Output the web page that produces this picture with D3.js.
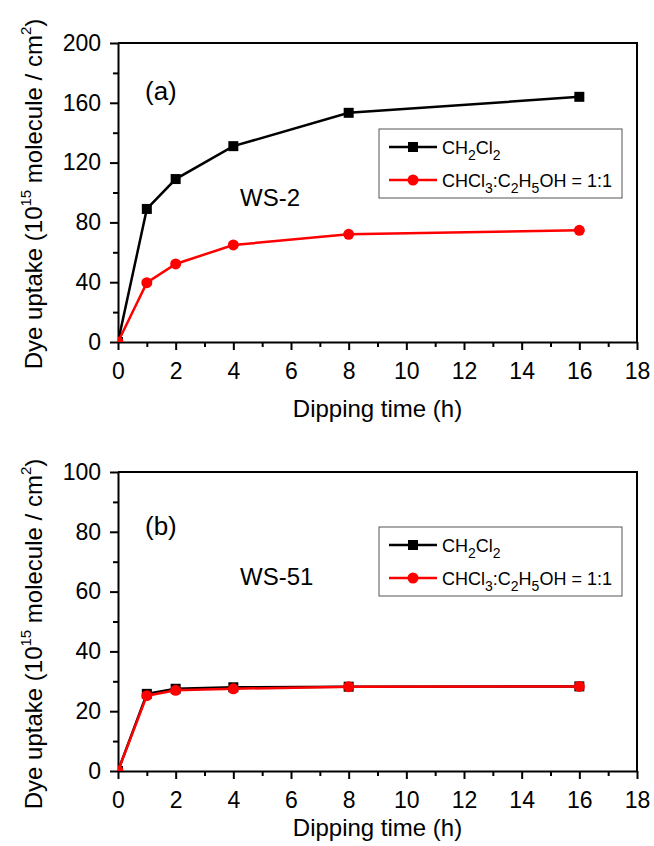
<!DOCTYPE html>
<html>
<head>
<meta charset="utf-8">
<script src="https://cdnjs.cloudflare.com/ajax/libs/d3/7.8.5/d3.min.js"></script>
<style>
  body { margin: 0; background: #fff; }
  svg { display: block; font-family: "Liberation Sans", Arial, sans-serif; }
  .axis path, .axis line { stroke: #000; stroke-width: 2; }
  .axis text { font-size: 23px; fill: #000; font-family: "Liberation Sans", Arial, sans-serif; }
</style>
</head>
<body>
<svg id="chart" width="654" height="846"></svg>
<script>
// Dipping time in hours
const hours = [0, 1, 2, 4, 8, 16];

// Dye uptake (10^15 molecule / cm^2)
const ws2CH2Cl2 = [0, 89, 109, 131, 153.3, 164];
const ws2Mix = [0, 39.7, 52.2, 64.9, 72, 74.7];
const ws51CH2Cl2 = [0, 25.8, 27.5, 28, 28.2, 28.3];
const ws51Mix = [0, 25.2, 27, 27.5, 28.2, 28.3];

const xTicks = [0, 2, 4, 6, 8, 10, 12, 14, 16, 18];
const yTicksA = [0, 40, 80, 120, 160, 200];
const yTicksB = [0, 20, 40, 60, 80, 100];

const svg = d3.select('#chart');

class UptakePanel {
  constructor(_config) {
    this.config = _config;
    this.initVis();
  }

  initVis() {
    let vis = this;
    const c = vis.config;

    vis.width = c.right - c.left;
    vis.height = c.bottom - c.top;

    vis.xScale = d3.scaleLinear().domain([0, 18]).range([0, vis.width]);
    vis.yScale = d3.scaleLinear().domain([0, c.yMax]).range([vis.height, 0]);

    vis.g = svg.append('g').attr('transform', `translate(${c.left},${c.top})`);

    vis.g.append('clipPath').attr('id', c.id + '-clip')
      .append('rect').attr('width', vis.width).attr('height', vis.height);

    // minor ticks first, majors on top
    const xMinor = d3.range(1, 18, 2);
    const yStep = c.yTicks[1] - c.yTicks[0];
    const yMinor = c.yTicks.slice(0, -1).map(v => v + yStep / 2);

    vis.g.append('g').attr('class', 'axis')
      .attr('transform', `translate(0,${vis.height})`)
      .call(d3.axisBottom(vis.xScale).tickValues(xMinor).tickSize(5).tickFormat(''))
      .call(g => g.select('.domain').remove());
    vis.g.append('g').attr('class', 'axis')
      .call(d3.axisLeft(vis.yScale).tickValues(yMinor).tickSize(5).tickFormat(''))
      .call(g => g.select('.domain').remove());

    vis.g.append('g').attr('class', 'axis')
      .attr('transform', `translate(0,${vis.height})`)
      .call(d3.axisBottom(vis.xScale).tickValues(xTicks).tickSize(8).tickPadding(13).tickSizeOuter(0));
    vis.g.append('g').attr('class', 'axis')
      .call(d3.axisLeft(vis.yScale).tickValues(c.yTicks).tickSize(8).tickPadding(9).tickSizeOuter(0));

    // top and right frame
    vis.g.append('path')
      .attr('d', `M0,0H${vis.width}V${vis.height}`)
      .attr('fill', 'none').attr('stroke', '#000').attr('stroke-width', 2);

    // axis titles
    svg.append('text')
      .attr('x', c.left + vis.width / 2).attr('y', c.xTitleY)
      .attr('text-anchor', 'middle').attr('font-size', 24)
      .text('Dipping time (h)');

    const yt = svg.append('text')
      .attr('transform', `translate(42,${c.yTitleY}) rotate(-90)`)
      .attr('text-anchor', 'middle').attr('font-size', 24);
    yt.append('tspan').text('Dye uptake (10');
    yt.append('tspan').attr('font-size', 15).attr('dy', -11).text('15');
    yt.append('tspan').attr('dy', 11).text(' molecule / cm');
    yt.append('tspan').attr('font-size', 15).attr('dy', -11).text('2');
    yt.append('tspan').attr('dy', 11).text(')');

    vis.g.append('text').attr('x', 27).attr('y', c.letterY)
      .attr('font-size', 26).text(c.letter);
    vis.g.append('text').attr('x', 122).attr('y', c.sampleY)
      .attr('font-size', 24).text(c.sample);

    vis.renderVis();
    vis.renderLegend();
  }

  renderVis() {
    let vis = this;
    const c = vis.config;
    const plot = vis.g.append('g').attr('clip-path', `url(#${c.id}-clip)`);
    const line = d3.line().x(d => vis.xScale(d[0])).y(d => vis.yScale(d[1]));

    c.series.forEach(s => {
      const pts = hours.map((h, i) => [h, s.values[i]]);
      plot.append('path').datum(pts)
        .attr('d', line).attr('fill', 'none')
        .attr('stroke', s.color).attr('stroke-width', 2.5);
      if (s.shape === 'square') {
        plot.selectAll(null).data(pts).join('rect')
          .attr('x', d => vis.xScale(d[0]) - 5).attr('y', d => vis.yScale(d[1]) - 5)
          .attr('width', 10).attr('height', 10).attr('fill', s.color);
      } else {
        plot.selectAll(null).data(pts).join('circle')
          .attr('cx', d => vis.xScale(d[0])).attr('cy', d => vis.yScale(d[1]))
          .attr('r', 5.5).attr('fill', s.color);
      }
    });
  }

  renderLegend() {
    let vis = this;
    const c = vis.config;
    const lg = svg.append('g').attr('transform', `translate(379,${c.legendY})`);
    lg.append('rect').attr('width', 243).attr('height', 69)
      .attr('fill', '#fff').attr('stroke', '#555').attr('stroke-width', 1);

    const rows = [
      { y: 18, color: '#000', shape: 'square', parts: [['CH', 0], ['2', 1], ['Cl', 0], ['2', 1]] },
      { y: 51, color: '#ff0000', shape: 'circle', parts: [['CHCl', 0], ['3', 1], [':C', 0], ['2', 1], ['H', 0], ['5', 1], ['OH = 1:1', 0]] }
    ];
    rows.forEach(r => {
      lg.append('line').attr('x1', 10).attr('x2', 58).attr('y1', r.y).attr('y2', r.y)
        .attr('stroke', r.color).attr('stroke-width', 2.5);
      if (r.shape === 'square') {
        lg.append('rect').attr('x', 29).attr('y', r.y - 5).attr('width', 10).attr('height', 10).attr('fill', r.color);
      } else {
        lg.append('circle').attr('cx', 34).attr('cy', r.y).attr('r', 5.5).attr('fill', r.color);
      }
      const t = lg.append('text').attr('x', 63).attr('y', r.y + 7).attr('font-size', 18);
      let sub = 0;
      r.parts.forEach(([txt, isSub]) => {
        const dy = (isSub ? 6 : 0) - (sub ? 6 : 0);
        t.append('tspan').attr('dy', dy).attr('font-size', isSub ? 14 : 18).text(txt);
        sub = isSub;
      });
    });
  }
}

new UptakePanel({
  id: 'a', left: 118, right: 637, top: 43, bottom: 342, yMax: 200, yTicks: yTicksA,
  xTitleY: 417, yTitleY: 194, letter: '(a)', letterY: 57, sample: 'WS-2', sampleY: 163, legendY: 129,
  series: [
    { values: ws2CH2Cl2, color: '#000', shape: 'square' },
    { values: ws2Mix, color: '#ff0000', shape: 'circle' }
  ]
});

new UptakePanel({
  id: 'b', left: 118, right: 637, top: 472, bottom: 771, yMax: 100, yTicks: yTicksB,
  xTitleY: 836, yTitleY: 634, letter: '(b)', letterY: 63, sample: 'WS-51', sampleY: 113, legendY: 527,
  series: [
    { values: ws51CH2Cl2, color: '#000', shape: 'square' },
    { values: ws51Mix, color: '#ff0000', shape: 'circle' }
  ]
});
</script>
</body>
</html>
